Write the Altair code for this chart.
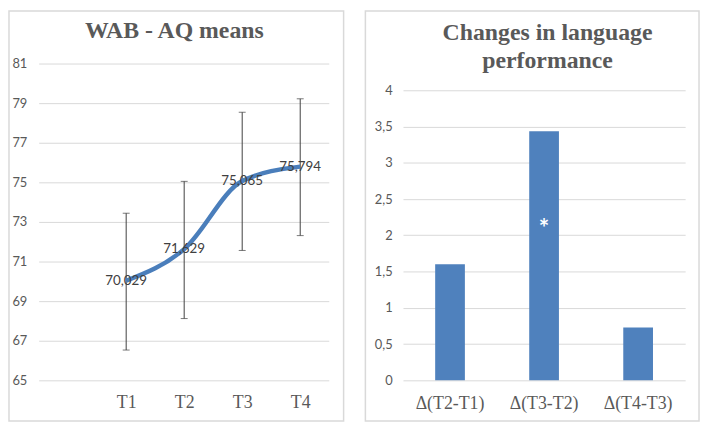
import altair as alt
import pandas as pd

# ---------------- data ----------------
times = ["T1", "T2", "T3", "T4"]
means = [70.029, 71.629, 75.065, 75.794]
lower = [66.53, 68.12, 71.56, 72.31]
upper = [73.44, 75.05, 78.54, 79.22]

deltas = ["Δ(T2-T1)", "Δ(T3-T2)", "Δ(T4-T3)"]
changes = [1.600, 3.436, 0.729]
stars = ["", "*", ""]
star_level = 2.17

left_title = "WAB - AQ means"
right_title = ["Changes in language", "performance"]

left_ticks = [65, 67, 69, 71, 73, 75, 77, 79, 81]
right_ticks = [0, 0.5, 1, 1.5, 2, 2.5, 3, 3.5, 4]

# ---------------- style ----------------
GRID = "#d9d9d9"
TXT = "#595959"
BLUE = "#4a7ebb"
SERIF = "Liberation Serif"
SANS = "Lato"

df_left = pd.DataFrame({"t": times, "m": means, "lo": lower, "hi": upper})
df_left["lab"] = [f"{v:.3f}".replace(".", ",") for v in means]
df_right = pd.DataFrame({"d": deltas, "c": changes, "s": stars})
df_right["sy"] = star_level
one = pd.DataFrame({"k": [0]})

LW, LH = 293, 320
RW, RH = 285, 320

xl = dict(
    sort=times,
    scale=alt.Scale(type="point", padding=1.0114, align=0.754),
    axis=alt.Axis(title=None, ticks=False, domain=False, grid=False, labelAngle=0,
                  labelFont=SERIF, labelFontSize=18, labelColor=TXT, labelPadding=13),
)
yl_scale = alt.Scale(domain=[65, 81], nice=False, zero=False)
yl_axis = alt.Axis(title=None, values=left_ticks, grid=True, gridColor=GRID, domain=False,
                   ticks=False, labelFont=SANS, labelFontSize=13, labelColor=TXT, labelPadding=12)

base_l = alt.Chart(df_left)
rules = base_l.mark_rule(color="#404040", strokeWidth=1).encode(
    x=alt.X("t:N", **xl), y=alt.Y("lo:Q", scale=yl_scale, axis=yl_axis), y2="hi:Q")
cap_lo = base_l.mark_tick(color="#404040", thickness=1, size=7).encode(
    x=alt.X("t:N", **xl), y=alt.Y("lo:Q", scale=yl_scale, axis=yl_axis))
cap_hi = base_l.mark_tick(color="#404040", thickness=1, size=7).encode(
    x=alt.X("t:N", **xl), y=alt.Y("hi:Q", scale=yl_scale, axis=yl_axis))
line = base_l.mark_line(color=BLUE, strokeWidth=4.5, interpolate="monotone").encode(
    x=alt.X("t:N", **xl), y=alt.Y("m:Q", scale=yl_scale, axis=yl_axis))
labels = base_l.mark_text(font=SANS, fontSize=13.5, color="#404040", baseline="middle").encode(
    x=alt.X("t:N", **xl), y=alt.Y("m:Q", scale=yl_scale, axis=yl_axis), text="lab:N")

border_l = alt.Chart(one).mark_rect(fillOpacity=0, stroke=GRID, strokeWidth=1.5).encode(
    x=alt.value(-30), x2=alt.value(308), y=alt.value(-53), y2=alt.value(361))
title_l = alt.Chart(pd.DataFrame({"t": [left_title]})).mark_text(
    font=SERIF, fontSize=24, fontWeight="bold", color=TXT, baseline="middle", align="center"
).encode(x=alt.value(137), y=alt.value(-33), text="t:N")

left = alt.layer(border_l, title_l, rules, cap_lo, cap_hi, line, labels).properties(width=LW, height=LH)

# right panel
xr = dict(
    sort=deltas,
    scale=alt.Scale(paddingInner=0.684, paddingOuter=0.342),
    axis=alt.Axis(title=None, ticks=False, domain=False, grid=False, labelAngle=0,
                  labelFont=SERIF, labelFontSize=18, labelColor=TXT, labelPadding=14),
)
yr_scale = alt.Scale(domain=[0, 4.3686], nice=False)
yr_axis = alt.Axis(title=None, values=right_ticks, grid=True, gridColor=GRID, domain=False,
                   ticks=False, labelFont=SANS, labelFontSize=13, labelColor=TXT, labelPadding=11,
                   format="~g", labelExpr="replace(datum.label, '.', ',')")

base_r = alt.Chart(df_right)
bars = base_r.mark_bar(color="#4f81bd").encode(
    x=alt.X("d:N", **xr), y=alt.Y("c:Q", scale=yr_scale, axis=yr_axis))
star = base_r.mark_text(font=SANS, fontSize=25, fontWeight="bold", color="white", baseline="middle", dy=6).encode(
    x=alt.X("d:N", **xr), y=alt.Y("sy:Q", scale=yr_scale, axis=yr_axis), text="s:N")

border_r = alt.Chart(one).mark_rect(fillOpacity=0, stroke=GRID, strokeWidth=1.5).encode(
    x=alt.value(-38), x2=alt.value(299), y=alt.value(-53), y2=alt.value(361))
title_r1 = alt.Chart(pd.DataFrame({"t": [right_title[0]]})).mark_text(
    font=SERIF, fontSize=24, fontWeight="bold", color=TXT, baseline="middle", align="center"
).encode(x=alt.value(146), y=alt.value(-31), text="t:N")
title_r2 = alt.Chart(pd.DataFrame({"t": [right_title[1]]})).mark_text(
    font=SERIF, fontSize=24, fontWeight="bold", color=TXT, baseline="middle", align="center"
).encode(x=alt.value(146), y=alt.value(-3), text="t:N")

right = alt.layer(border_r, title_r1, title_r2, bars, star).properties(width=RW, height=RH)

chart = alt.hconcat(left, right, spacing=20).properties(padding=0, background="white").configure_view(stroke=None)

chart.save("out.html", embed_options={"renderer": "svg", "actions": False})
